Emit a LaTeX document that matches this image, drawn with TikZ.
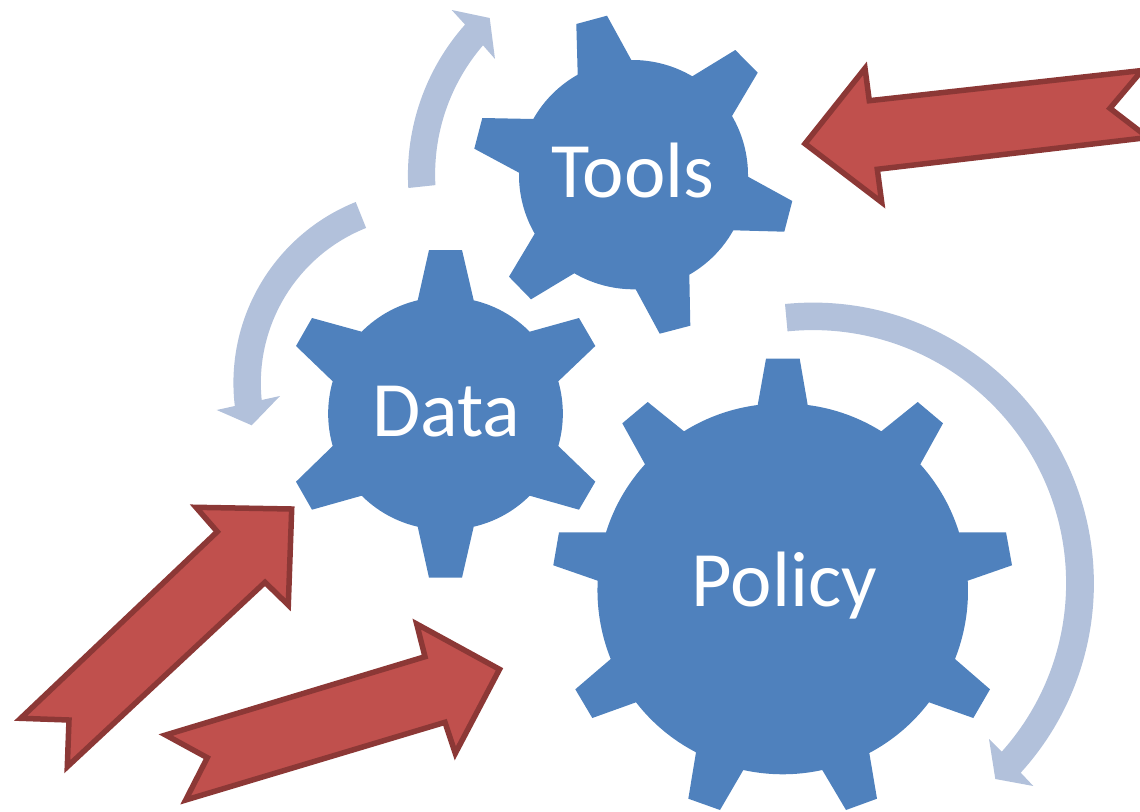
\documentclass[tikz,border=0pt]{standalone}
\usepackage{fontspec}
\setmainfont{Carlito}
\definecolor{gearblue}{HTML}{4F81BD}
\definecolor{cyclelight}{HTML}{B2C1DB}
\definecolor{forcefill}{HTML}{C0504D}
\definecolor{forceline}{HTML}{8C3836}
\tikzset{
  gearbody/.style={fill=gearblue,draw=none,looseness=0.87},
  gearlabel/.style={text=white,anchor=base,inner sep=0pt,font=\fontsize{78.5}{90}\selectfont},
  cyclearrow/.style={fill=cyclelight,draw=none},
  forcearrow/.style={fill=forcefill,draw=forceline,line width=5.5pt,miter limit=10}
}
\begin{document}
\begin{tikzpicture}[x=1pt,y=-1pt]
\useasboundingbox (0,0) rectangle (1140,811);
% cycle arrows
\path[cyclearrow] (408.3,188) arc[start angle=176.7,end angle=221.6,radius=226.5]
  -- (451.7,10) -- (489.7,18) -- (495,59) -- (483,45.3)
  arc[start angle=220.7,end angle=176.9,radius=198] -- cycle;
\path[cyclearrow] (355.7,202) arc[start angle=-111.9,end angle=-186.8,radius=195]
  -- (216.7,410) -- (251.7,425.3) -- (280,396) -- (261.7,400)
  arc[start angle=-185.8,end angle=-111.7,radius=167] -- cycle;
\path[cyclearrow] (785,304) arc[start angle=-95.7,end angle=42.3,radius=281]
  -- (1033.3,786) -- (995.3,779) -- (989,739) -- (1001.7,751.7)
  arc[start angle=41.8,end angle=-95.8,radius=253] -- cycle;
% Tools gear
\path[gearbody] (576.3,24) -- (607,15.7) -- (631.3,60) to[bend left=15.5] (692.3,76.3)
  -- (735.3,50) -- (757.7,72.7) -- (732,116) to[bend left=15.5] (748,176.7)
  -- (792.3,201) -- (784.3,231.7) -- (733.3,230.3) to[bend left=15.5] (689.3,274.7)
  -- (690.3,325.7) -- (659.7,333.7) -- (635.7,289.3) to[bend left=15.5] (574.3,273.3)
  -- (531,299.3) -- (509,276.7) -- (534.7,233.7) to[bend left=15.5] (519,172.7)
  -- (474.3,148.7) -- (482.3,118) -- (533.3,119) to[bend left=15.5] (577.7,74.7) -- cycle;
% Data gear
\path[gearbody] (429,250) -- (462,250) -- (473.7,300.3) to[bend left=16] (529.7,331.7)
  -- (579,318) -- (595.3,346) -- (558.3,381.3) to[bend left=16] (558.3,446)
  -- (595.3,481.7) -- (579,509.7) -- (529.7,495.7) to[bend left=16] (473.7,526.7)
  -- (462,577.7) -- (429,577.7) -- (417.7,526.7) to[bend left=16] (361.7,495.7)
  -- (312,509.7) -- (296,481.7) -- (332.7,446) to[bend left=16] (332.7,381.3)
  -- (296,346) -- (312,318) -- (361.7,331.7) to[bend left=16] (417.7,300.3) -- cycle;
% Policy gear
\path[gearbody] (766,358.7) -- (799.7,358.7) -- (807.7,405) to[bend left=12.3] (881.3,431.3)
  -- (917.7,402) -- (943,423.3) -- (920.3,464.3) to[bend left=12.3] (959,532.3)
  -- (1006,532.3) -- (1012,565.3) -- (967.7,580.7) to[bend left=12.3] (955,659)
  -- (990,689.3) -- (973.3,718) -- (929,702.3) to[bend left=12.3] (869.3,753)
  -- (877,798.7) -- (846,810) -- (822.3,770) to[bend left=12.3] (743.3,770)
  -- (720,810) -- (688.3,798.7) -- (696,752.3) to[bend left=12.3] (636,702.3)
  -- (592.3,718) -- (575.3,689.3) -- (610.7,659) to[bend left=12.3] (597.7,580.7)
  -- (553.3,565.3) -- (559,532.3) -- (606,532.3) to[bend left=12.3] (645,464.3)
  -- (622.3,423.3) -- (647.7,402) -- (684,431.3) to[bend left=12.3] (757.7,405) -- cycle;
% labels
\node[gearlabel] (toolslabel) at (633,197) {Tools};
\node[gearlabel] (datalabel) at (446.5,436.7) {Data};
\node[gearlabel] (policylabel) at (784.5,606.7) {Policy};
% force arrows
\path[forcearrow] (20.7,718.3) -- (69,720) -- (67.3,766.7) -- (265,582.3) -- (288.3,605)
  -- (291.7,509) -- (196,507.3) -- (217.3,531.7) -- cycle;
\path[forcearrow] (165.7,735) -- (207.3,757.7) -- (185.7,800) -- (445,722.3) -- (455.3,753.3)
  -- (499.5,669.3) -- (416.7,624) -- (425,656.7) -- cycle;
\begin{scope}
\clip (0,0) rectangle (1140,811);
\path[forcearrow] (805,143.7) -- (865,68.3) -- (869.3,100.7) -- (1142,70.5) -- (1110,108.3)
  -- (1148,137.5) -- (877.3,169.3) -- (881.7,202.3) -- cycle;
\end{scope}
\end{tikzpicture}
\end{document}
